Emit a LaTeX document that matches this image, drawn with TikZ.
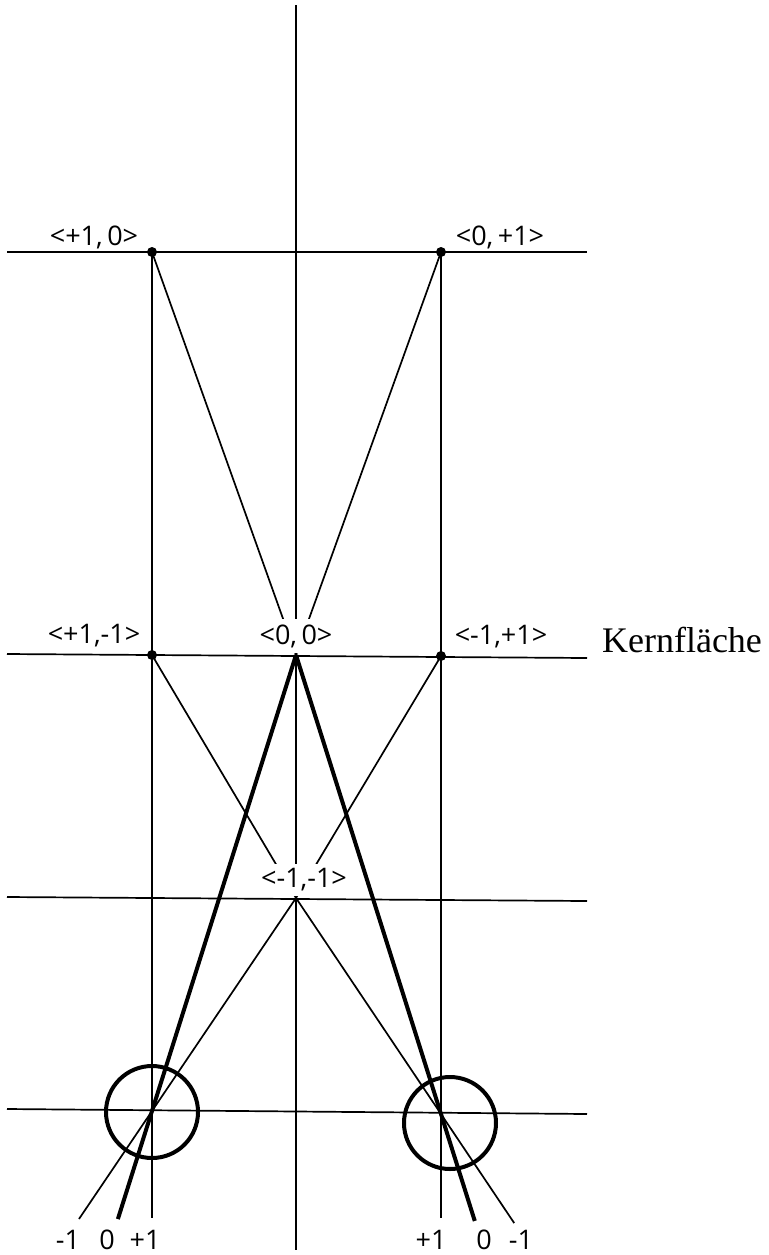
\documentclass[tikz,border=0pt]{standalone}
\usepackage{fontspec}
\setmainfont{Liberation Serif}
\newfontfamily\labelfont{Open Sans}
\usepackage{tikz}
\usetikzlibrary{calc,positioning}

\tikzset{
  gitter/.style={line width=0.85pt},
  duenn/.style={line width=0.85pt},
  dick/.style={line width=2pt},
  ring/.style={line width=2pt},
  punkt/.style={circle, fill=black, inner sep=0pt, minimum size=5pt},
  etikett/.style={font=\labelfont\fontsize{13.5}{16}\selectfont, inner sep=1pt},
  weiss/.style={etikett, fill=white, inner sep=2.5pt}
}

\begin{document}
\begin{tikzpicture}[x=0.5pt,y=-0.5pt]
  \useasboundingbox (0,0) rectangle (769,1255);

  % Gitterpunkte
  \coordinate (A) at (152,252);
  \coordinate (B) at (441,252);
  \coordinate (C) at (152,655);
  \coordinate (D) at (441,656);
  \coordinate (O) at (296,655);
  \coordinate (M) at (296,898);
  \coordinate (P) at (152,1111);
  \coordinate (Q) at (441,1114);

  % Horizontale Linien
  \coordinate (h1l) at (7,252);   \coordinate (h1r) at (587,252);
  \coordinate (h2l) at (7,654);   \coordinate (h2r) at (587,658);
  \coordinate (h3l) at (7,897);   \coordinate (h3r) at (587,901);
  \coordinate (h4l) at (7,1109);  \coordinate (h4r) at (587,1114);
  \draw[gitter] (h1l) -- (h1r);
  \draw[gitter] (h2l) -- (h2r);
  \draw[gitter] (h3l) -- (h3r);
  \draw[gitter] (h4l) -- (h4r);

  % Vertikale Linien
  \coordinate (v1b) at (152,1218);
  \coordinate (v2t) at (296,5);   \coordinate (v2b) at (296,1250);
  \coordinate (v3b) at (441,1218);
  \draw[gitter] (A) -- (v1b);
  \draw[gitter] (v2t) -- (v2b);
  \draw[gitter] (B) -- (v3b);

  % Duenne Strahlen
  \draw[duenn] (A) -- (O);
  \draw[duenn] (B) -- (O);
  \draw[duenn] (C) -- (M);
  \draw[duenn] (D) -- (M);
  \coordinate (L1) at ($(M)!1.507!(P)$);
  \coordinate (R1) at ($(M)!1.505!(Q)$);
  \draw[duenn] (M) -- (L1);
  \draw[duenn] (M) -- (R1);

  % Dicke Strahlen
  \coordinate (L0) at ($(O)!1.237!(P)$);
  \coordinate (R0) at ($(O)!1.233!(Q)$);
  \draw[dick] (O) -- (L0);
  \draw[dick] (O) -- (R0);

  % Kreise
  \coordinate (RingL) at (152,1112);
  \coordinate (RingR) at (450,1123);
  \draw[ring] (RingL) circle (23pt);
  \draw[ring] (RingR) circle (23pt);

  % Punkte
  \foreach \p in {A,B,C,D}
    \node[punkt] (p\p) at (\p) {};

  % Beschriftungen
  \node[etikett] (tA) at (94,237) {<+1,\,0>};
  \node[etikett] (tB) at (500,237) {<0,\,+1>};
  \node[etikett] (tC) at (94,636) {<+1,-1>};
  \node[weiss] (tO) at (296,636) {<0,\,0>};
  \node[etikett] (tD) at (501,637) {<-1,+1>};
  \node[weiss] (tM) at (304,880) {<-1,-1>};
  \node[font=\fontsize{18}{20}\selectfont, inner sep=0pt] (kern) at (682,640) {Kernfläche};

  % Achsenwerte unten
  \node[etikett] (uL1) at (68,1240) {-1};
  \node[etikett] (uL0) at (107,1240) {0};
  \node[etikett] (uLp) at (145,1240) {+1};
  \node[etikett] (uRp) at (431,1240) {+1};
  \node[etikett] (uR0) at (484,1240) {0};
  \node[etikett] (uR1) at (521,1240) {-1};
\end{tikzpicture}
\end{document}
